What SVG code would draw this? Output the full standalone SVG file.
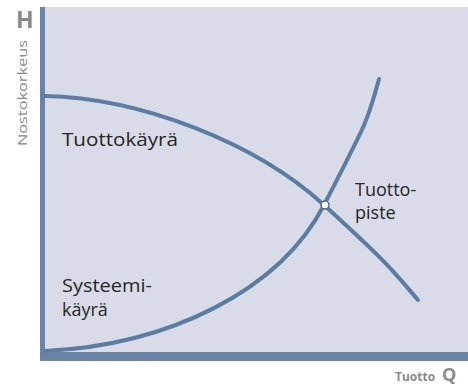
<svg xmlns="http://www.w3.org/2000/svg" width="468" height="389" viewBox="0 0 468 389">
<style>
.curve{fill:none;stroke:#5d7ca2;stroke-width:4;stroke-linecap:round}
.lbl{font-family:"Open Sans","Liberation Sans",sans-serif;font-size:18px;fill:#262626}
.ax{font-family:"Open Sans","Liberation Sans",sans-serif;fill:#8a8a8a}
</style>
<rect x="0" y="0" width="468" height="389" fill="#ffffff"/>
<g id="plot">
<rect x="40" y="7" width="428" height="354" fill="#d9dce8"/>
<rect x="40" y="7" width="5" height="354" fill="#6883a6"/>
<rect x="40" y="352" width="428" height="9" fill="#6883a6"/>
</g>
<g id="connectors">
<path id="pump-curve" class="curve" d="M45,96 C140,98 255,142 324,205 S392,270 418,300"/>
<path id="system-curve" class="curve" d="M45,351 C170,345 280,290 324,205 S368,120 379,79"/>
</g>
<g id="operating-point">
<circle cx="325" cy="205" r="4" fill="#ffffff" stroke="#4a6a90" stroke-width="1.5"/>
</g>
<g id="labels">
<text class="lbl" x="62" y="146" textLength="116" lengthAdjust="spacingAndGlyphs">Tuottokäyrä</text>
<text class="lbl" x="355" y="196">Tuotto-</text>
<text class="lbl" x="355" y="219">piste</text>
<text class="lbl" x="62" y="292" textLength="90" lengthAdjust="spacingAndGlyphs">Systeemi-</text>
<text class="lbl" x="62" y="316">käyrä</text>
</g>
<g id="axis-labels">
<text class="ax" x="16" y="28" font-size="23" font-weight="bold">H</text>
<text class="ax" font-size="13" transform="translate(27,146) rotate(-90)" textLength="106" lengthAdjust="spacingAndGlyphs">Nostokorkeus</text>
<text class="ax" x="395" y="381" font-size="12" font-weight="bold">Tuotto</text>
<text class="ax" x="442" y="381" font-size="18" font-weight="bold">Q</text>
</g>
</svg>
